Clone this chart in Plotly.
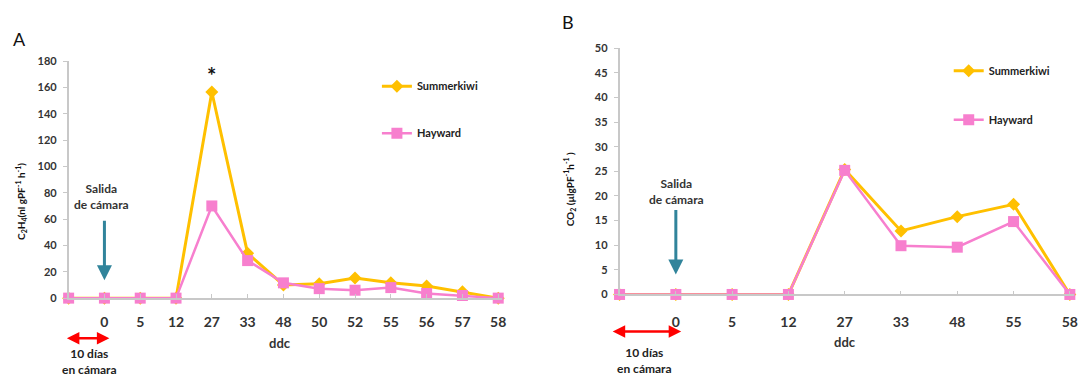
import plotly.graph_objects as go

# ---------------- data ----------------
cats_a = [" ", "0", "5", "12", "27", "33", "48", "50", "52", "55", "56", "57", "58"]
summer_a = [0, 0, 0, 0, 156.5, 34, 10, 11, 15.3, 11.6, 9.2, 4.8, 0]
hayward_a = [0, 0, 0, 0, 70, 28.5, 11.6, 7.2, 6, 8, 3.5, 2, 0]

cats_b = [" ", "0", "5", "12", "27", "33", "48", "55", "58"]
summer_b = [0, 0, 0, 0, 25.4, 12.9, 15.8, 18.3, 0]
hayward_b = [0, 0, 0, 0, 25.2, 9.9, 9.6, 14.8, 0]

GOLD = "#FFC000"
PINK = "#F77FCE"
TEAL = "#31849B"
AX = "#C8C8C8"
TXT = "#333333"
FONT = "Lato"

W, H = 1081, 378
def px(x): return x / W
def py(y): return (H - y) / H

fig = go.Figure()

def add_series(x, y, name, color, symbol, size, lw, xa, ya, legend, group):
    fig.add_trace(go.Scatter(
        x=x, y=y, name=name, mode="lines+markers",
        line=dict(color=color, width=lw),
        marker=dict(color=color, symbol=symbol, size=size),
        xaxis=xa, yaxis=ya, legend=legend, legendgroup=group,
        cliponaxis=False, showlegend=True))

add_series(cats_a, summer_a, "Summerkiwi", GOLD, "diamond", 10, 3, "x", "y", "legend", "a1")
add_series(cats_a, hayward_a, "Hayward", PINK, "square", 11, 2.5, "x", "y", "legend", "a2")
add_series(cats_b, summer_b, "Summerkiwi", GOLD, "diamond", 10, 3, "x2", "y2", "legend2", "b1")
add_series(cats_b, hayward_b, "Hayward", PINK, "square", 11, 2.5, "x2", "y2", "legend2", "b2")

def xcommon(standoff):
    return dict(type="category", showline=True, linecolor=AX, linewidth=1.5,
                ticks="inside", ticklen=4, tickcolor=AX, showgrid=False, zeroline=False,
                tickfont=dict(family=FONT, size=14, color=TXT, weight="bold"),
                ticklabelstandoff=standoff)
ycommon = dict(showline=True, linecolor=AX, linewidth=1.5, ticks="outside", ticklen=4,
               tickcolor=AX, showgrid=False, zeroline=False,
               tickfont=dict(family=FONT, size=11, color=TXT, weight="bold"),
               ticklabelstandoff=4)

fig.update_layout(
    width=W, height=H, margin=dict(l=0, r=0, t=0, b=0),
    paper_bgcolor="white", plot_bgcolor="white",
    font=dict(family=FONT, color=TXT),
    xaxis=dict(domain=[px(67), px(503)], anchor="y",
               categoryorder="array", categoryarray=cats_a,
               range=[0, (503 - 67) / 36], **xcommon(10)),
    yaxis=dict(domain=[py(301.5), py(56)], anchor="x", range=[0, 180],
               dtick=20, **ycommon),
    xaxis2=dict(domain=[px(621), px(1078)], anchor="y2",
                categoryorder="array", categoryarray=cats_b,
                range=[0, (1078 - 621) / 56.6], **xcommon(14)),
    yaxis2=dict(domain=[py(297.7), py(42.7)], anchor="x2", range=[0, 50],
                dtick=5, **ycommon),
    legend=dict(x=px(377), y=py(67), xanchor="left", yanchor="top",
                bgcolor="rgba(0,0,0,0)", tracegroupgap=28, itemwidth=30,
                font=dict(family=FONT, size=11, color="#222", weight="bold")),
    legend2=dict(x=px(952), y=py(51), xanchor="left", yanchor="top",
                 bgcolor="rgba(0,0,0,0)", tracegroupgap=30, itemwidth=30,
                 font=dict(family=FONT, size=11, color="#222", weight="bold")),
)

ann = []
def txt(x, y, t, size=12, angle=0, color=TXT, bold=True):
    ann.append(dict(xref="paper", yref="paper", x=px(x), y=py(y), text=t,
                    showarrow=False, textangle=angle, xanchor="center", yanchor="middle",
                    font=dict(family=FONT, size=size, color=color,
                              weight="bold" if bold else "normal")))

# panel letters
txt(18, 33, "A", size=18, bold=False, color="#111")
txt(569, 16, "B", size=18, bold=False, color="#111")
# y titles
txt(19, 201, "C<sub>2</sub>H<sub>4</sub>(nl gPF<sup>-1</sup> h<sup>-1</sup>)", size=10, angle=-90, color="#111")
txt(570, 189, "CO<sub>2</sub> (µlgPF<sup>-1</sup>h<sup>-1</sup> )", size=10, angle=-90, color="#111")
# x titles
txt(280, 348, "ddc", size=13)
txt(848, 347, "ddc", size=13)
# Salida labels
txt(100, 196, "Salida<br>de cámara", size=12)
txt(678, 191, "Salida<br>de cámara", size=12)
# 10 dias labels
txt(88, 367, "10 días<br>en cámara", size=12, color="#222")
txt(646, 366, "10 días<br>en cámara", size=12, color="#222")
# asterisk
ann.append(dict(xref="x", yref="y", x=cats_a.index("27"), y=169, text="<b>*</b>", showarrow=False,
                font=dict(family=FONT, size=22, color="#111")))

# teal arrows (Salida de camara)
ann.append(dict(xref="x", yref="y", x=cats_a.index("0"), y=(301.5 - 283) / (245.5 / 180),
                ax=0, ay=-61, axref="pixel", ayref="pixel", text="", showarrow=True,
                arrowhead=2, arrowsize=1, arrowwidth=3, arrowcolor=TEAL))
ann.append(dict(xref="x2", yref="y2", x=cats_b.index("0"), y=(297.7 - 277) / 5.1,
                ax=0, ay=-66, axref="pixel", ayref="pixel", text="", showarrow=True,
                arrowhead=2, arrowsize=1, arrowwidth=3, arrowcolor=TEAL))
# red double arrows
ann.append(dict(xref="paper", yref="paper", x=px(108), y=py(343), ax=-44, ay=0,
                text="", showarrow=True, arrowside="end+start", arrowhead=2,
                arrowsize=1, arrowwidth=2.5, arrowcolor="#FF0000"))
ann.append(dict(xref="paper", yref="paper", x=px(683), y=py(336), ax=-70, ay=0,
                text="", showarrow=True, arrowside="end+start", arrowhead=2,
                arrowsize=1, arrowwidth=2.5, arrowcolor="#FF0000"))

fig.update_layout(annotations=ann)
fig.write_html("out.html")
